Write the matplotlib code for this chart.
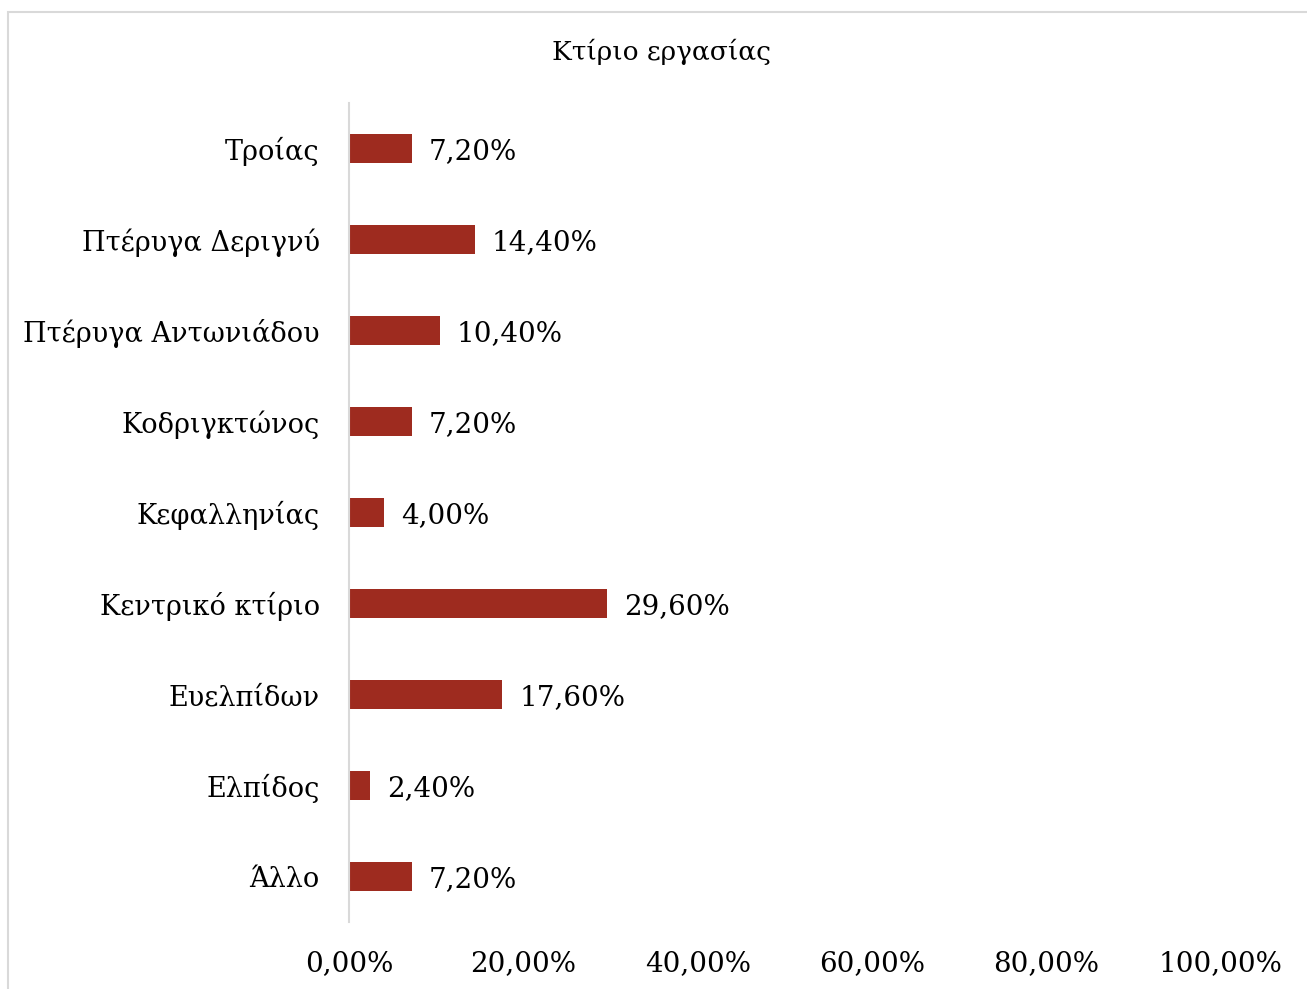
import matplotlib.pyplot as plt
import matplotlib.patches as mpatches
from matplotlib.ticker import FuncFormatter

# data, listed top to bottom as in the chart
categories = ["Τροίας", "Πτέρυγα Δεριγνύ", "Πτέρυγα Αντωνιάδου", "Κοδριγκτώνος",
              "Κεφαλληνίας", "Κεντρικό κτίριο", "Ευελπίδων", "Ελπίδος", "Άλλο"]
values = [7.20, 14.40, 10.40, 7.20, 4.00, 29.60, 17.60, 2.40, 7.20]
xticks = [0, 20, 40, 60, 80, 100]

plt.rcParams['font.family'] = ['DejaVu Serif']

W, H = 1307, 989
fig = plt.figure(figsize=(W / 100, H / 100), dpi=100)
ax = fig.add_axes([349 / W, 1 - 922 / H, (1221 - 349) / W, (922 - 103) / H])

ypos = list(range(len(categories)))
ax.barh(ypos, values, height=0.31, color="#9E2B1F")
ax.set_ylim(len(categories) - 0.5, -0.5)
ax.set_xlim(0, 100)

def pct(v, _=None):
    return f"{v:.2f}".replace(".", ",") + "%"

for y, v in zip(ypos, values):
    ax.annotate(pct(v), (v, y), xytext=(17, 0), textcoords="offset pixels",
                va="center_baseline", ha="left", fontsize=20)

ax.set_yticks(ypos)
ax.set_yticklabels(categories, fontsize=19.5, va="center_baseline")
ax.set_xticks(xticks)
ax.xaxis.set_major_formatter(FuncFormatter(pct))
ax.tick_params(axis="x", labelsize=20, length=0, pad=20)
ax.tick_params(axis="y", length=0, pad=21)

for s in ["top", "right", "bottom"]:
    ax.spines[s].set_visible(False)
ax.spines["left"].set_color("#d9d9d9")
ax.spines["left"].set_linewidth(1.5)

fig.text(661 / W, 1 - 52 / H, "Κτίριο εργασίας", ha="center", va="center", fontsize=19)

# chart border (only left and top edges are visible in the frame)
border = mpatches.Rectangle((8 / W, -0.5), 2, 1.5 - 12 / H, transform=fig.transFigure,
                            fill=False, edgecolor="#d9d9d9", linewidth=1.5)
fig.patches.append(border)

fig.savefig("out.png", dpi=100)
